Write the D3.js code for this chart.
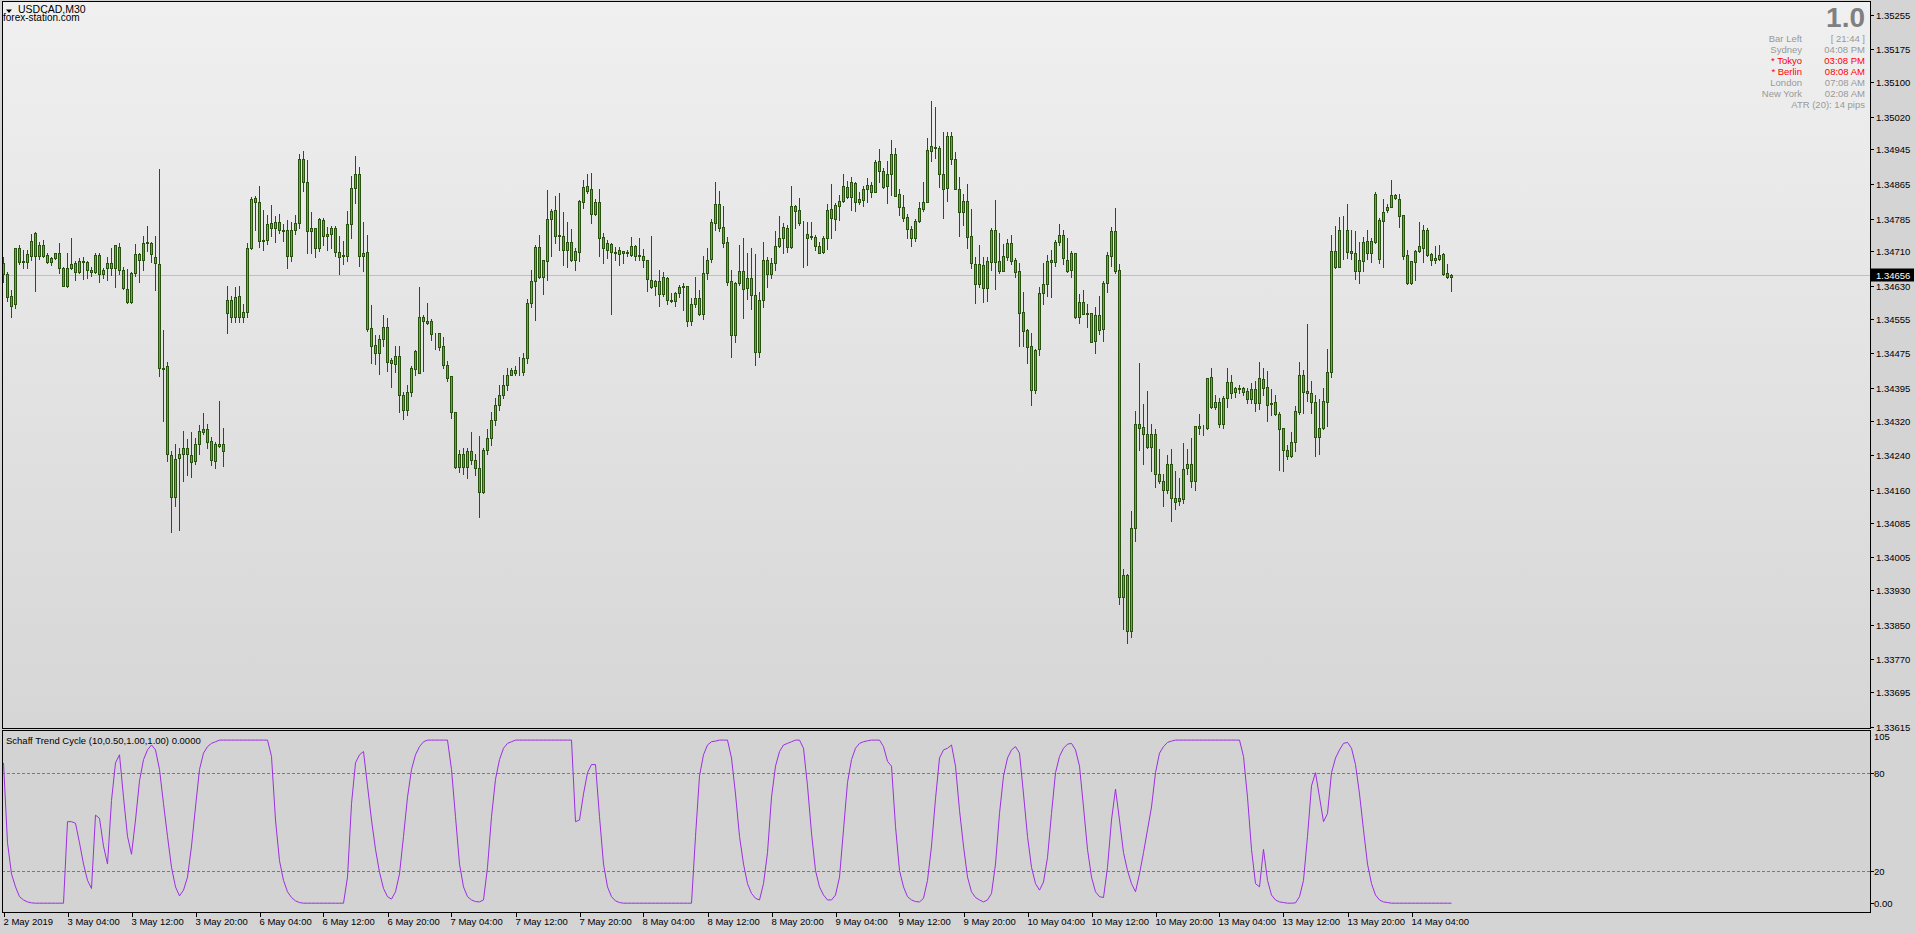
<!DOCTYPE html>
<html><head><meta charset="utf-8">
<script src="https://cdn.jsdelivr.net/npm/d3@7/dist/d3.min.js"></script>
<style>
body{margin:0;background:#d4d4d4;overflow:hidden;}
svg{display:block;}
text{font-family:"Liberation Sans",Arial,sans-serif;}
</style>
</head><body>
<svg id="c" width="1916" height="933"></svg>
<script>
// ===== DATA =====
const symbol = "USDCAD,M30";
const source = "forex-station.com";
const indicatorName = "Schaff Trend Cycle (10,0.50,1.00,1.00) 0.0000";
const lastPrice = 1.34656;

const opens = [
1.34682,1.34657,1.34606,1.34588,1.34717,1.34686,1.34686,1.34700,1.34751,1.34700,
1.34724,1.34686,1.34694,1.34694,1.34705,1.34671,1.34630,1.34671,1.34682,1.34663,
1.34686,1.34686,1.34663,1.34663,1.34701,1.34657,1.34671,1.34684,1.34672,1.34721,
1.34668,1.34624,1.34592,1.34661,1.34691,1.34691,1.34730,1.34728,1.34697,1.34680,
1.34442,1.34445,1.34240,1.34143,1.34233,1.34244,1.34256,1.34240,1.34227,1.34265,
1.34294,1.34300,1.34273,1.34227,1.34265,1.34250,1.34567,1.34598,1.34558,1.34607,
1.34558,1.34569,1.34717,1.34832,1.34823,1.34734,1.34737,1.34774,1.34763,1.34777,
1.34760,1.34758,1.34700,1.34759,1.34774,1.34922,1.34869,1.34757,1.34763,1.34717,
1.34783,1.34749,1.34749,1.34763,1.34709,1.34701,1.34700,1.34773,1.34855,1.34889,
1.34700,1.34709,1.34534,1.34494,1.34476,1.34507,1.34536,1.34459,1.34450,1.34469,
1.34380,1.34344,1.34386,1.34438,1.34430,1.34558,1.34550,1.34549,1.34519,1.34521,
1.34492,1.34449,1.34423,1.34339,1.34212,1.34242,1.34212,1.34250,1.34229,1.34210,
1.34156,1.34252,1.34279,1.34321,1.34356,1.34379,1.34402,1.34426,1.34436,1.34431,
1.34431,1.34465,1.34590,1.34642,1.34719,1.34651,1.34688,1.34784,1.34805,1.34747,
1.34745,1.34714,1.34731,1.34691,1.34709,1.34823,1.34860,1.34853,1.34796,1.34823,
1.34742,1.34728,1.34726,1.34708,1.34703,1.34707,1.34708,1.34701,1.34722,1.34701,
1.34698,1.34690,1.34644,1.34631,1.34641,1.34611,1.34648,1.34598,1.34595,1.34615,
1.34628,1.34631,1.34550,1.34588,1.34602,1.34565,1.34659,1.34692,1.34774,1.34820,
1.34765,1.34731,1.34641,1.34517,1.34636,1.34665,1.34625,1.34648,1.34609,1.34477,
1.34598,1.34691,1.34657,1.34682,1.34722,1.34740,1.34763,1.34719,1.34814,1.34805,
1.34741,1.34740,1.34744,1.34744,1.34723,1.34709,1.34741,1.34807,1.34784,1.34815,
1.34826,1.34857,1.34836,1.34867,1.34823,1.34828,1.34853,1.34863,1.34847,1.34918,
1.34896,1.34860,1.34887,1.34933,1.34842,1.34813,1.34788,1.34761,1.34741,1.34780,
1.34807,1.34823,1.34942,1.34949,1.34949,1.34887,1.34855,1.34976,1.34922,1.34853,
1.34800,1.34826,1.34745,1.34681,1.34634,1.34678,1.34625,1.34686,1.34759,1.34688,
1.34665,1.34697,1.34728,1.34690,1.34664,1.34569,1.34529,1.34492,1.34390,1.34484,
1.34615,1.34634,1.34686,1.34686,1.34731,1.34747,1.34691,1.34668,1.34707,1.34558,
1.34592,1.34567,1.34567,1.34504,1.34563,1.34530,1.34636,1.34700,1.34757,1.34667,
1.33913,1.33964,1.33836,1.34072,1.34311,1.34306,1.34290,1.34260,1.34288,1.34198,
1.34181,1.34161,1.34221,1.34142,1.34135,1.34139,1.34211,1.34219,1.34181,1.34308,
1.34302,1.34304,1.34421,1.34352,1.34363,1.34311,1.34371,1.34408,1.34385,1.34393,
1.34386,1.34388,1.34369,1.34392,1.34361,1.34415,1.34398,1.34360,1.34362,1.34334,
1.34302,1.34252,1.34238,1.34271,1.34340,1.34425,1.34388,1.34383,1.34362,1.34281,
1.34302,1.34363,1.34431,1.34710,1.34674,1.34759,1.34760,1.34710,1.34707,1.34665,
1.34688,1.34734,1.34705,1.34731,1.34692,1.34780,1.34805,1.34813,1.34840,1.34830,
1.34794,1.34701,1.34636,1.34686,1.34711,1.34718,1.34760,1.34704,1.34691,1.34692,
1.34703,1.34659,1.34650];

const highs = [
1.34697,1.34663,1.34621,1.34718,1.34724,1.34713,1.34713,1.34750,1.34755,1.34731,
1.34736,1.34707,1.34697,1.34707,1.34728,1.34674,1.34707,1.34740,1.34687,1.34694,
1.34696,1.34687,1.34673,1.34705,1.34705,1.34671,1.34697,1.34717,1.34724,1.34728,
1.34673,1.34669,1.34663,1.34727,1.34707,1.34745,1.34768,1.34731,1.34745,1.34899,
1.34528,1.34455,1.34250,1.34267,1.34256,1.34296,1.34277,1.34293,1.34279,1.34310,
1.34338,1.34312,1.34283,1.34270,1.34365,1.34302,1.34630,1.34608,1.34628,1.34630,
1.34588,1.34730,1.34836,1.34838,1.34860,1.34805,1.34793,1.34817,1.34791,1.34795,
1.34773,1.34782,1.34777,1.34793,1.34934,1.34941,1.34920,1.34800,1.34763,1.34787,
1.34786,1.34765,1.34769,1.34769,1.34745,1.34734,1.34803,1.34883,1.34929,1.34903,
1.34777,1.34747,1.34586,1.34517,1.34517,1.34563,1.34557,1.34463,1.34492,1.34492,
1.34385,1.34402,1.34446,1.34482,1.34627,1.34563,1.34590,1.34555,1.34521,1.34521,
1.34512,1.34457,1.34423,1.34339,1.34252,1.34257,1.34256,1.34293,1.34242,1.34284,
1.34256,1.34300,1.34340,1.34372,1.34402,1.34425,1.34441,1.34440,1.34446,1.34467,
1.34476,1.34599,1.34667,1.34724,1.34747,1.34691,1.34851,1.34807,1.34837,1.34845,
1.34801,1.34778,1.34761,1.34717,1.34827,1.34874,1.34888,1.34891,1.34830,1.34853,
1.34753,1.34736,1.34728,1.34719,1.34719,1.34711,1.34713,1.34742,1.34724,1.34740,
1.34715,1.34691,1.34745,1.34644,1.34668,1.34663,1.34651,1.34613,1.34617,1.34632,
1.34636,1.34631,1.34602,1.34650,1.34621,1.34700,1.34717,1.34784,1.34869,1.34849,
1.34814,1.34744,1.34667,1.34640,1.34724,1.34740,1.34707,1.34717,1.34703,1.34617,
1.34732,1.34696,1.34694,1.34757,1.34791,1.34774,1.34770,1.34860,1.34817,1.34833,
1.34780,1.34778,1.34778,1.34747,1.34732,1.34746,1.34820,1.34864,1.34822,1.34840,
1.34888,1.34873,1.34882,1.34869,1.34846,1.34860,1.34878,1.34869,1.34920,1.34946,
1.34901,1.34918,1.34966,1.34947,1.34853,1.34840,1.34797,1.34769,1.34784,1.34823,
1.34869,1.34972,1.35056,1.35042,1.34953,1.34984,1.34984,1.34984,1.34938,1.34882,
1.34841,1.34865,1.34807,1.34696,1.34724,1.34696,1.34696,1.34763,1.34828,1.34753,
1.34727,1.34738,1.34747,1.34694,1.34682,1.34617,1.34531,1.34522,1.34486,1.34627,
1.34682,1.34701,1.34713,1.34736,1.34773,1.34759,1.34740,1.34711,1.34707,1.34611,
1.34621,1.34588,1.34567,1.34582,1.34607,1.34641,1.34709,1.34765,1.34809,1.34681,
1.33979,1.33966,1.34112,1.34342,1.34452,1.34358,1.34388,1.34312,1.34300,1.34254,
1.34198,1.34241,1.34254,1.34204,1.34188,1.34269,1.34254,1.34280,1.34308,1.34335,
1.34310,1.34419,1.34442,1.34380,1.34373,1.34376,1.34440,1.34425,1.34398,1.34402,
1.34398,1.34394,1.34407,1.34411,1.34456,1.34440,1.34434,1.34393,1.34379,1.34340,
1.34304,1.34264,1.34293,1.34353,1.34456,1.34436,1.34542,1.34411,1.34379,1.34370,
1.34394,1.34486,1.34747,1.34768,1.34788,1.34791,1.34820,1.34760,1.34757,1.34732,
1.34742,1.34760,1.34741,1.34846,1.34786,1.34830,1.34820,1.34874,1.34843,1.34842,
1.34794,1.34713,1.34688,1.34713,1.34778,1.34770,1.34763,1.34707,1.34722,1.34724,
1.34705,1.34681,1.34657];

const lows = [
1.34640,1.34596,1.34559,1.34580,1.34681,1.34671,1.34671,1.34690,1.34619,1.34692,
1.34697,1.34684,1.34678,1.34692,1.34659,1.34630,1.34628,1.34669,1.34644,1.34659,
1.34646,1.34649,1.34654,1.34661,1.34640,1.34648,1.34644,1.34655,1.34628,1.34657,
1.34624,1.34591,1.34591,1.34654,1.34640,1.34667,1.34711,1.34686,1.34621,1.34423,
1.34320,1.34228,1.34064,1.34124,1.34069,1.34181,1.34194,1.34191,1.34221,1.34243,
1.34289,1.34257,1.34218,1.34210,1.34260,1.34216,1.34522,1.34548,1.34546,1.34546,
1.34546,1.34559,1.34715,1.34759,1.34721,1.34713,1.34727,1.34746,1.34732,1.34753,
1.34734,1.34672,1.34688,1.34750,1.34764,1.34850,1.34707,1.34707,1.34697,1.34711,
1.34724,1.34713,1.34717,1.34700,1.34658,1.34681,1.34688,1.34741,1.34822,1.34676,
1.34664,1.34526,1.34452,1.34450,1.34427,1.34492,1.34434,1.34398,1.34433,1.34340,
1.34323,1.34333,1.34377,1.34425,1.34429,1.34434,1.34542,1.34505,1.34485,1.34482,
1.34442,1.34412,1.34327,1.34211,1.34202,1.34198,1.34187,1.34221,1.34194,1.34098,
1.34154,1.34242,1.34264,1.34310,1.34344,1.34372,1.34390,1.34425,1.34425,1.34425,
1.34425,1.34453,1.34582,1.34552,1.34648,1.34612,1.34644,1.34698,1.34730,1.34713,
1.34678,1.34674,1.34688,1.34667,1.34688,1.34810,1.34845,1.34776,1.34794,1.34698,
1.34684,1.34695,1.34565,1.34690,1.34678,1.34684,1.34698,1.34699,1.34691,1.34691,
1.34674,1.34619,1.34625,1.34609,1.34585,1.34607,1.34588,1.34593,1.34584,1.34604,
1.34575,1.34539,1.34540,1.34582,1.34563,1.34555,1.34646,1.34686,1.34759,1.34757,
1.34719,1.34632,1.34467,1.34500,1.34632,1.34557,1.34599,1.34576,1.34449,1.34466,
1.34582,1.34628,1.34649,1.34667,1.34721,1.34707,1.34709,1.34718,1.34764,1.34770,
1.34674,1.34678,1.34738,1.34713,1.34705,1.34707,1.34715,1.34740,1.34760,1.34782,
1.34823,1.34833,1.34805,1.34803,1.34820,1.34815,1.34823,1.34834,1.34846,1.34869,
1.34855,1.34822,1.34840,1.34837,1.34793,1.34780,1.34741,1.34723,1.34734,1.34778,
1.34803,1.34823,1.34919,1.34926,1.34859,1.34787,1.34826,1.34911,1.34853,1.34746,
1.34770,1.34717,1.34672,1.34590,1.34628,1.34592,1.34596,1.34667,1.34622,1.34661,
1.34665,1.34691,1.34681,1.34651,1.34492,1.34492,1.34453,1.34357,1.34384,1.34471,
1.34588,1.34607,1.34605,1.34677,1.34724,1.34680,1.34663,1.34651,1.34557,1.34545,
1.34565,1.34536,1.34500,1.34476,1.34519,1.34504,1.34617,1.34677,1.34659,1.33897,
1.33840,1.33807,1.33822,1.34043,1.34252,1.34220,1.34257,1.34204,1.34168,1.34177,
1.34124,1.34152,1.34089,1.34116,1.34125,1.34129,1.34197,1.34168,1.34160,1.34290,
1.34287,1.34300,1.34350,1.34346,1.34306,1.34302,1.34352,1.34371,1.34375,1.34383,
1.34380,1.34360,1.34360,1.34343,1.34347,1.34379,1.34320,1.34333,1.34333,1.34206,
1.34204,1.34231,1.34235,1.34250,1.34334,1.34338,1.34366,1.34338,1.34238,1.34244,
1.34300,1.34307,1.34421,1.34671,1.34673,1.34692,1.34694,1.34692,1.34646,1.34638,
1.34665,1.34692,1.34686,1.34728,1.34684,1.34674,1.34801,1.34811,1.34830,1.34767,
1.34692,1.34635,1.34635,1.34644,1.34709,1.34686,1.34699,1.34678,1.34682,1.34690,
1.34655,1.34648,1.34619];

const closes = [
1.34657,1.34605,1.34585,1.34717,1.34686,1.34687,1.34703,1.34734,1.34700,1.34724,
1.34700,1.34701,1.34686,1.34705,1.34671,1.34631,1.34672,1.34680,1.34663,1.34687,
1.34687,1.34668,1.34668,1.34701,1.34657,1.34668,1.34684,1.34671,1.34724,1.34668,
1.34626,1.34592,1.34661,1.34703,1.34703,1.34728,1.34731,1.34703,1.34684,1.34442,
1.34439,1.34242,1.34143,1.34231,1.34244,1.34256,1.34242,1.34225,1.34266,1.34296,
1.34300,1.34271,1.34230,1.34266,1.34262,1.34265,1.34597,1.34558,1.34604,1.34558,
1.34569,1.34717,1.34830,1.34823,1.34734,1.34737,1.34772,1.34763,1.34777,1.34760,
1.34757,1.34700,1.34758,1.34774,1.34922,1.34869,1.34757,1.34763,1.34717,1.34784,
1.34746,1.34746,1.34763,1.34709,1.34697,1.34700,1.34772,1.34855,1.34889,1.34700,
1.34707,1.34532,1.34492,1.34476,1.34507,1.34536,1.34456,1.34453,1.34469,1.34380,
1.34344,1.34386,1.34440,1.34480,1.34559,1.34550,1.34545,1.34519,1.34520,1.34490,
1.34449,1.34419,1.34339,1.34212,1.34242,1.34212,1.34250,1.34229,1.34210,1.34156,
1.34252,1.34279,1.34321,1.34356,1.34379,1.34402,1.34425,1.34436,1.34430,1.34432,
1.34463,1.34590,1.34641,1.34719,1.34651,1.34690,1.34784,1.34803,1.34746,1.34745,
1.34714,1.34731,1.34690,1.34711,1.34826,1.34857,1.34850,1.34797,1.34823,1.34741,
1.34717,1.34714,1.34708,1.34705,1.34713,1.34711,1.34705,1.34722,1.34700,1.34698,
1.34690,1.34645,1.34628,1.34641,1.34611,1.34650,1.34598,1.34595,1.34615,1.34627,
1.34631,1.34550,1.34588,1.34602,1.34565,1.34661,1.34691,1.34777,1.34820,1.34764,
1.34728,1.34640,1.34516,1.34636,1.34665,1.34622,1.34648,1.34609,1.34479,1.34598,
1.34691,1.34657,1.34682,1.34722,1.34740,1.34765,1.34719,1.34814,1.34803,1.34774,
1.34740,1.34749,1.34746,1.34723,1.34707,1.34740,1.34805,1.34786,1.34817,1.34826,
1.34860,1.34836,1.34869,1.34823,1.34830,1.34853,1.34863,1.34847,1.34915,1.34896,
1.34859,1.34888,1.34933,1.34838,1.34813,1.34787,1.34761,1.34741,1.34780,1.34809,
1.34823,1.34943,1.34952,1.34951,1.34887,1.34853,1.34976,1.34922,1.34853,1.34800,
1.34826,1.34744,1.34682,1.34634,1.34680,1.34625,1.34688,1.34760,1.34686,1.34665,
1.34699,1.34728,1.34688,1.34663,1.34568,1.34527,1.34490,1.34390,1.34482,1.34615,
1.34634,1.34688,1.34690,1.34731,1.34747,1.34694,1.34665,1.34705,1.34558,1.34592,
1.34565,1.34565,1.34502,1.34563,1.34529,1.34638,1.34701,1.34757,1.34665,1.33913,
1.33964,1.33836,1.34072,1.34313,1.34304,1.34288,1.34260,1.34288,1.34198,1.34181,
1.34161,1.34221,1.34141,1.34133,1.34141,1.34208,1.34221,1.34181,1.34308,1.34304,
1.34304,1.34419,1.34352,1.34363,1.34311,1.34371,1.34408,1.34383,1.34394,1.34394,
1.34394,1.34369,1.34392,1.34360,1.34417,1.34396,1.34357,1.34359,1.34334,1.34300,
1.34252,1.34238,1.34271,1.34342,1.34425,1.34385,1.34384,1.34362,1.34281,1.34302,
1.34365,1.34431,1.34711,1.34674,1.34759,1.34760,1.34709,1.34705,1.34665,1.34690,
1.34731,1.34705,1.34734,1.34843,1.34782,1.34801,1.34813,1.34840,1.34832,1.34792,
1.34698,1.34638,1.34688,1.34711,1.34722,1.34760,1.34701,1.34691,1.34694,1.34701,
1.34658,1.34650,1.34656];

const stc = [
86,37,18,10,4,2,0.8,0.2,0,0,
0,0,0,0,0,0,50,50,49,37,
24,14,9,54,52,35,24,63,86,91,
65,41,30,51,75,88,94,97,94,82,
61,41,22,10,4.5,8,16,35,59,82,
92,96,98,99,100,100,100,100,100,100,
100,100,100,100,100,100,100,90,51,26,
14,7,3.5,1.4,0.4,0,0,0,0,0,
0,0,0,0,0,0,16,61,86,91,
93,72,51,33,19,9,4,2.5,7,18,
41,65,82,91,96,99,100,100,100,100,
100,100,82,53,24,10,4,2,1,0.8,
2,22,53,76,88,95,98,99,100,100,
100,100,100,100,100,100,100,100,100,100,
100,100,100,50,51,67,80,85,85,53,
24,10,4,1.4,0.4,0,0,0,0,0,
0,0,0,0,0,0,0,0,0,0,
0,0,0,41,78,91,97,99,99.4,100,
100,100,89,67,41,24,12,6,3,2,
12,31,65,84,93,97,98,99,100,100,
95,72,43,20,10,5,2,2,5,16,
45,74,88,95,98,99,99.6,100,100,100,
96,87,84,47,20,10,4,2,1,0.8,
3,14,35,64,89,94,95,97,84,57,
35,16,7,3.5,2,0.8,2,6,24,55,
78,89,94,96,92,67,41,22,12,8,
13,28,55,80,90,95,97.5,98,94,84,
59,33,16,7,4,3.5,22,51,70,51,
31,20,12,7,18,31,45,59,80,92,
96,98.6,99.4,100,100,100,100,100,100,100,
100,100,100,100,100,100,100,100,100,100,
90,65,33,12,10,33,14,5,2,0.8,
0.4,0,0,0.2,4,14,41,72,80,65,
50,55,80,89,94,98,98.6,95,85,67,
45,24,12,5,2,0.8,0.4,0,0,0,
0,0,0,0,0,0,0,0,0,0,
0,0,0];

const priceTicks = [1.35255,1.35175,1.35100,1.35020,1.34945,1.34865,1.34785,1.34710,1.34630,1.34555,1.34475,1.34395,1.34320,1.34240,1.34160,1.34085,1.34005,1.33930,1.33850,1.33770,1.33695,1.33615];
const timeLabels = ["2 May 2019","3 May 04:00","3 May 12:00","3 May 20:00","6 May 04:00","6 May 12:00","6 May 20:00","7 May 04:00","7 May 12:00","7 May 20:00","8 May 04:00","8 May 12:00","8 May 20:00","9 May 04:00","9 May 12:00","9 May 20:00","10 May 04:00","10 May 12:00","10 May 20:00","13 May 04:00","13 May 12:00","13 May 20:00","14 May 04:00"];
const timeLabelBars = [0,16,32,48,64,80,96,112,128,144,160,176,192,208,224,240,256,272,288,304,320,336,352];
const stcLevels = [80,20];
const stcAxisLabels = [{v:105,t:"105"},{v:80,t:"80"},{v:20,t:"20"},{v:0,t:"0.00"}];

const infoBig = "1.0";
const infoLabels = ["Bar Left","Sydney","* Tokyo","* Berlin","London","New York"];
const infoValues = ["[ 21:44 ]","04:08 PM","03:08 PM","08:08 AM","07:08 AM","02:08 AM"];
const infoRed = [false,false,true,true,false,false];
const infoAtr = "ATR (20): 14 pips";

// ===== LAYOUT =====
const W = 1916, H = 933;
const L = 2, R = 1870, mainTop = 1, mainBot = 728, indTop = 730, indBot = 912;
const bars = d3.range(opens.length);

const x = d3.scaleLinear().domain([0, 362]).range([3.5, 1451.5]);
const y = d3.scaleLinear().domain([1.33615, 1.35255]).range([726.6, 14.7]);
const yi = d3.scaleLinear().domain([0, 100]).range([903.2, 740.1]);

const svg = d3.select('#c');
const defs = svg.append('defs');
const grad = defs.append('linearGradient').attr('id','bg').attr('x1',0).attr('y1',0).attr('x2',0).attr('y2',1);
grad.append('stop').attr('offset','0%').attr('stop-color','#f0f0f0');
grad.append('stop').attr('offset','100%').attr('stop-color','#d6d6d6');
defs.append('clipPath').attr('id','clipMain').append('rect')
  .attr('x',L+1).attr('y',mainTop+1).attr('width',R-L-1).attr('height',mainBot-mainTop-1);
defs.append('clipPath').attr('id','clipInd').append('rect')
  .attr('x',L+1).attr('y',indTop+1).attr('width',R-L-1).attr('height',indBot-indTop-1);

svg.append('rect').attr('width',W).attr('height',H).attr('fill','#d4d4d4');
svg.append('rect').attr('x',L+0.5).attr('y',mainTop+0.5).attr('width',R-L).attr('height',mainBot-mainTop)
  .attr('fill','url(#bg)');
svg.append('rect').attr('x',L+0.5).attr('y',indTop+0.5).attr('width',R-L).attr('height',indBot-indTop)
  .attr('fill','#d3d3d3');

// current price line
const gMain = svg.append('g').attr('clip-path','url(#clipMain)');
const lpY = Math.round(y(lastPrice)) + 0.5;
gMain.append('line').attr('x1',L).attr('x2',R).attr('y1',lpY).attr('y2',lpY)
  .attr('stroke','#c0c0c0').attr('stroke-width',1);

// candles
const wickCol = '#27530f', upFill = '#36c936', dnFill = '#e2644c';
const cg = gMain.append('g');
cg.selectAll('line.w').data(bars).join('line').attr('class','w')
  .attr('x1',i=>x(i)).attr('x2',i=>x(i))
  .attr('y1',i=>Math.round(y(highs[i]))).attr('y2',i=>Math.round(y(lows[i]))+1)
  .attr('stroke',wickCol).attr('stroke-width',1);
cg.selectAll('rect.b').data(bars).join('rect').attr('class','b')
  .attr('x',i=>x(i)-1)
  .attr('y',i=>Math.round(y(Math.max(opens[i],closes[i])))+0.5)
  .attr('width',2)
  .attr('height',i=>Math.max(0, Math.round(y(Math.min(opens[i],closes[i]))) - Math.round(y(Math.max(opens[i],closes[i])))))
  .attr('fill',i=>closes[i]>=opens[i]?upFill:dnFill)
  .attr('stroke',wickCol).attr('stroke-width',1);

// STC panel
const gInd = svg.append('g').attr('clip-path','url(#clipInd)');
stcLevels.forEach(v=>{
  const yy = Math.round(yi(v))+0.5;
  gInd.append('line').attr('x1',L).attr('x2',R).attr('y1',yy).attr('y2',yy)
    .attr('stroke','#7a7a7a').attr('stroke-width',1).attr('stroke-dasharray','3,2');
});
gInd.append('path').datum(bars)
  .attr('d', d3.line().x(i=>x(i)).y(i=>yi(stc[i])))
  .attr('fill','none').attr('stroke','#9b30e0').attr('stroke-width',1);

// panel borders
svg.append('rect').attr('x',L+0.5).attr('y',mainTop+0.5).attr('width',R-L).attr('height',mainBot-mainTop)
  .attr('fill','none').attr('stroke','#000');
svg.append('rect').attr('x',L+0.5).attr('y',indTop+0.5).attr('width',R-L).attr('height',indBot-indTop)
  .attr('fill','none').attr('stroke','#000');

// price axis
const pa = svg.append('g');
priceTicks.forEach(p=>{
  const yy = Math.round(y(p))+0.5;
  pa.append('line').attr('x1',R+1).attr('x2',R+4).attr('y1',yy).attr('y2',yy).attr('stroke','#000');
  pa.append('text').attr('x',R+6).attr('y',yy).attr('dy','0.35em')
    .attr('font-size','9.5px').attr('fill','#000').text(p.toFixed(5));
});
// current price tag
pa.append('rect').attr('x',R+1).attr('y',lpY-7).attr('width',43).attr('height',13).attr('fill','#000');
pa.append('text').attr('x',R+6).attr('y',lpY).attr('dy','0.35em')
  .attr('font-size','9.5px').attr('fill','#fff').text(lastPrice.toFixed(5));

// STC axis
stcAxisLabels.forEach(d=>{
  let yy = Math.round(yi(d.v))+0.5;
  if (d.v === 105) yy = indTop + 7;
  else pa.append('line').attr('x1',R+1).attr('x2',R+4).attr('y1',yy).attr('y2',yy).attr('stroke','#000');
  pa.append('text').attr('x',R+4).attr('y',yy).attr('dy','0.35em')
    .attr('font-size','9.5px').attr('fill','#000').text(d.t);
});

// time axis
timeLabels.forEach((t,k)=>{
  const xx = Math.round(x(timeLabelBars[k]))+0.5;
  svg.append('line').attr('x1',xx).attr('x2',xx).attr('y1',indBot+1).attr('y2',indBot+5).attr('stroke','#000');
  svg.append('text').attr('x',xx-1).attr('y',922).attr('dy','0.35em')
    .attr('font-size','9.5px').attr('fill','#000').text(t);
});

// titles
svg.append('path').attr('d','M6,9.5 L12,9.5 L9,13 Z').attr('fill','#000');
svg.append('text').attr('x',18).attr('y',13).attr('font-size','10.5px').attr('fill','#000').text(symbol);
svg.append('text').attr('x',3).attr('y',21).attr('font-size','10px').attr('fill','#000').text(source);
svg.append('text').attr('x',6).attr('y',741).attr('dy','0.35em').attr('font-size','9.5px').attr('fill','#000').text(indicatorName);

// info panel
svg.append('text').attr('x',1865).attr('y',27).attr('text-anchor','end')
  .attr('font-size','28px').attr('font-weight','bold').attr('fill','#808080').text(infoBig);
const rowY = [38.7,50,61,71.7,82.7,93.3];
infoLabels.forEach((lab,k)=>{
  const col = infoRed[k] ? '#ff0000' : '#999999';
  svg.append('text').attr('x',1802).attr('y',rowY[k]).attr('dy','0.35em').attr('text-anchor','end')
    .attr('font-size','9.5px').attr('fill',col).text(lab);
  svg.append('text').attr('x',1865).attr('y',rowY[k]).attr('dy','0.35em').attr('text-anchor','end')
    .attr('font-size','9.5px').attr('fill',col).text(infoValues[k]);
});
svg.append('text').attr('x',1865).attr('y',105).attr('dy','0.35em').attr('text-anchor','end')
  .attr('font-size','9.5px').attr('fill','#999999').text(infoAtr);
</script>
</body></html>
